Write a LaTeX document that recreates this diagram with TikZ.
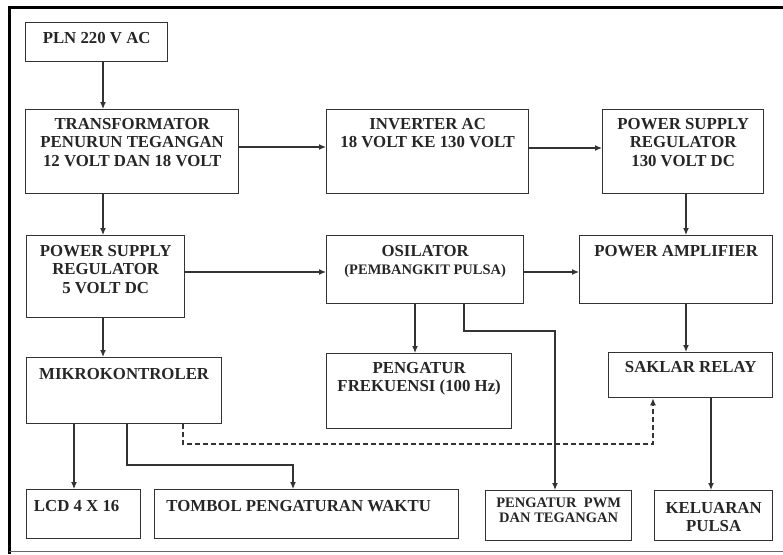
\documentclass[tikz,border=0pt]{standalone}
\usepackage{fontspec}
\setmainfont{Liberation Serif}
\usepackage{tikz}
\usetikzlibrary{arrows.meta,calc}

\tikzset{
  blk/.style={draw=black!80, line width=1.3pt, anchor=north west, inner sep=0pt},
  txt/.style={font=\bfseries\fontsize{16.8}{18.5}\selectfont, text=black!85, align=center, inner sep=0pt, anchor=north},
  arr/.style={draw=black!80, line width=1.2pt, -{Latex[length=7pt,width=6pt]}}
}

\begin{document}
\begin{tikzpicture}[x=1pt,y=-1pt]
\useasboundingbox (0,0) rectangle (783,554);
\draw[line width=3pt] (8,7) -- (783,7);
\draw[line width=3pt] (9,6) -- (9,554);
\draw[black!60, line width=1pt] (9,551) -- (783,551);

\node[blk, minimum width=142, minimum height=39] (pln) at (25,22) {};
\node[blk, minimum width=213, minimum height=84] (trans) at (25,109) {};
\node[blk, minimum width=202, minimum height=84] (inv) at (326,109) {};
\node[blk, minimum width=161, minimum height=84] (ps130) at (602,109) {};
\node[blk, minimum width=158, minimum height=82] (ps5) at (26,235) {};
\node[blk, minimum width=197, minimum height=68] (osc) at (326,235) {};
\node[blk, minimum width=193, minimum height=68] (pamp) at (579,235) {};
\node[blk, minimum width=195, minimum height=66] (mikro) at (26,357) {};
\node[blk, minimum width=185, minimum height=75] (frek) at (326,353) {};
\node[blk, minimum width=164, minimum height=45] (relay) at (608,352) {};
\node[blk, minimum width=114, minimum height=49] (lcd) at (26,489) {};
\node[blk, minimum width=304, minimum height=49] (tombol) at (154,489) {};
\node[blk, minimum width=146, minimum height=50] (pwm) at (485,490) {};
\node[blk, minimum width=118, minimum height=50] (kel) at (654,490) {};

\node[txt, yshift=-10pt] (plnT) at (pln.north) {PLN 220 V AC};
\node[txt, yshift=-9pt] (transT) at (trans.north) {TRANSFORMATOR\\PENURUN TEGANGAN\\12 VOLT DAN 18 VOLT};
\node[txt, yshift=-9pt] (invT) at (inv.north) {INVERTER AC\\18 VOLT KE 130 VOLT};
\node[txt, yshift=-9pt] (ps130T) at (ps130.north) {POWER SUPPLY\\REGULATOR\\130 VOLT DC};
\node[txt, yshift=-10pt] (ps5T) at (ps5.north) {POWER SUPPLY\\REGULATOR\\5 VOLT DC};
\node[txt, yshift=-10pt] (oscT) at (osc.north) {OSILATOR\\{\fontsize{14.5}{18}\selectfont (PEMBANGKIT PULSA)}};
\node[txt, yshift=-10pt] (pampT) at (pamp.north) {POWER AMPLIFIER};
\node[txt, yshift=-11pt] (mikroT) at (mikro.north) {MIKROKONTROLER};
\node[txt, yshift=-9pt] (frekT) at (frek.north) {PENGATUR\\FREKUENSI (100 Hz)};
\node[txt, yshift=-9pt] (relayT) at (relay.north) {SAKLAR RELAY};
\node[txt, yshift=-11pt, xshift=-7pt] (lcdT) at (lcd.north) {LCD 4 X 16};
\node[txt, yshift=-11pt, xshift=-8pt] (tombolT) at (tombol.north) {TOMBOL PENGATURAN WAKTU};
\node[txt, yshift=-8pt, font=\bfseries\fontsize{14.5}{15}\selectfont] (pwmT) at (pwm.north) {PENGATUR\ \ PWM\\DAN TEGANGAN};
\node[txt, yshift=-12pt] (kelT) at (kel.north) {KELUARAN\\PULSA};

\coordinate (xa) at (103,0);
\coordinate (xb) at (74,0);
\coordinate (xc) at (686,0);
\coordinate (xd) at (415,0);
\coordinate (xe) at (711,0);
\coordinate (ya) at (0,147);
\coordinate (yb) at (0,272);

\draw[arr] (pln.south -| xa) -- (trans.north -| xa);
\draw[arr] (trans.south -| xa) -- (ps5.north -| xa);
\draw[arr] (ps5.south -| xa) -- (mikro.north -| xa);
\draw[arr] (mikro.south -| xb) -- (lcd.north -| xb);
\draw[arr] (trans.east |- ya) -- (inv.west |- ya);
\draw[arr] ([yshift=-1pt]inv.east |- ya) -- ([yshift=-1pt]ps130.west |- ya);
\draw[arr] (ps5.east |- yb) -- (osc.west |- yb);
\draw[arr] (osc.east |- yb) -- (pamp.west |- yb);
\draw[arr] (ps130.south -| xc) -- (pamp.north -| xc);
\draw[arr] (pamp.south -| xc) -- (relay.north -| xc);
\draw[arr] (osc.south -| xd) -- (frek.north -| xd);
\draw[arr] (relay.south -| xe) -- (kel.north -| xe);
\draw[arr] (mikro.south -| 127,0) -- (127,465) -- (293,465) -- (tombol.north -| 293,0);
\draw[arr] (osc.south -| 464,0) -- (464,331) -- (555,331) -- (pwm.north -| 555,0);
\draw[arr, dashed, dash pattern=on 5pt off 3pt] (mikro.south -| 183,0) -- (183,444) -- (653,444) -- (relay.south -| 653,0);
\end{tikzpicture}
\end{document}
